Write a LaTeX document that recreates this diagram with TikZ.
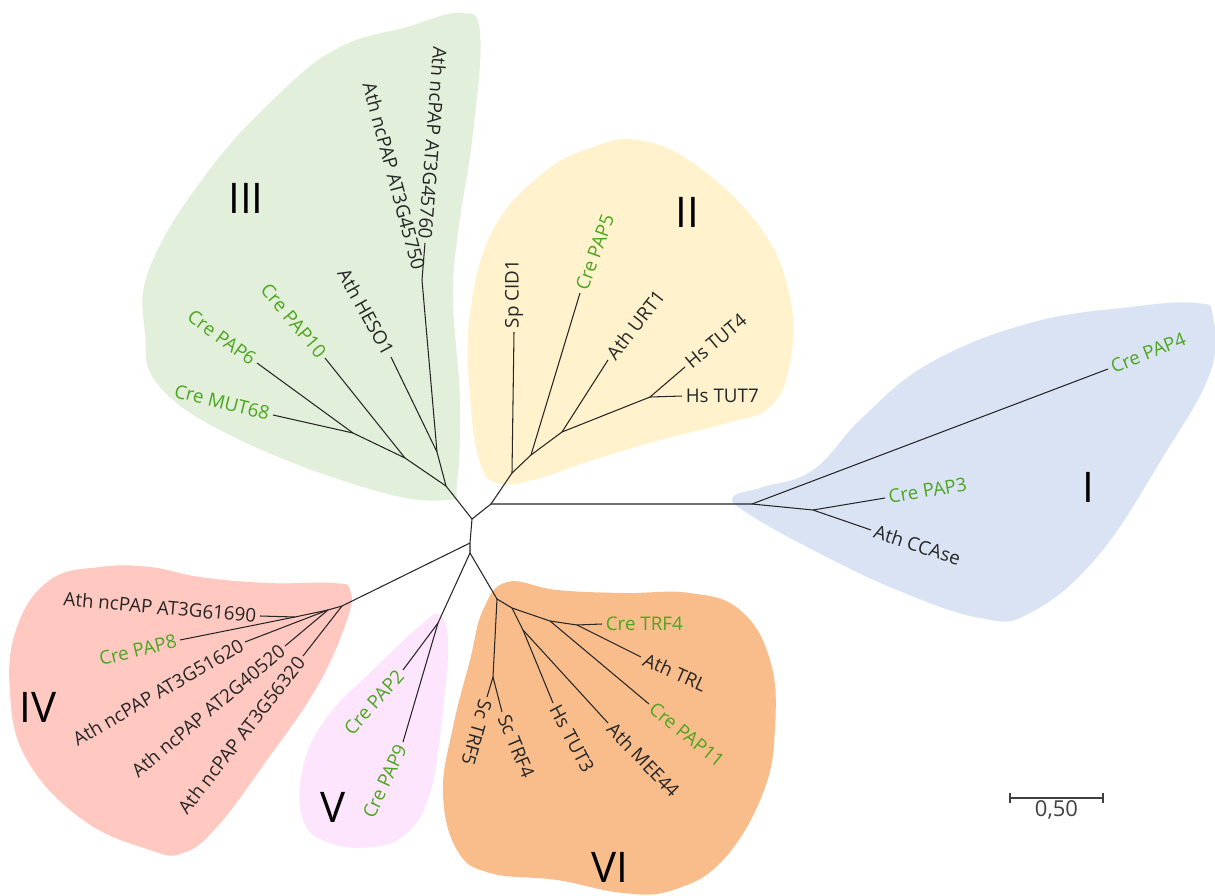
\documentclass[tikz,border=0pt]{standalone}
\usepackage{fontspec}
\setmainfont{Open Sans}
\usetikzlibrary{calc}
\definecolor{cregreen}{HTML}{4CA61E}
\definecolor{cladeI}{HTML}{DAE3F3}
\definecolor{cladeII}{HTML}{FFF2CC}
\definecolor{cladeIII}{HTML}{E2EFDA}
\definecolor{cladeIV}{HTML}{FFC8C0}
\definecolor{cladeV}{HTML}{FDE5FD}
\definecolor{cladeVI}{HTML}{F9BD8C}
\begin{document}
\begin{tikzpicture}[
            x=0.02cm, y=-0.02cm,
            blob/.style={draw=none},
            branch/.style={
                    draw=black!85,
                    line width=0.6pt
                },
            taxon/.style={
                    font=\fontsize{10.7}{13}\selectfont,
                    text=black!85,
                    inner sep=2pt
                },
            cre/.style={taxon, text=cregreen},
            roman/.style={
                    font=\fontsize{24}{28}\selectfont,
                    text=black
                },
            scalebar/.style={
                    draw=black!75,
                    line width=0.6pt
                }
            ]
            \useasboundingbox (0,0) rectangle (1215,896);

            % Hintergrundflaechen der Kladen
            \fill[blob, cladeIII] plot[smooth cycle, tension=0.7] coordinates {
                (460,13) (480,33) (473,133) (458,233) (453,300) (460,400)
                (457,483) (447,500) (373,490) (240,440) (160,387) (145,333)
                (150,267) (207,173) (280,93) (340,47) (407,27)};
            \fill[blob, cladeII] plot[smooth cycle, tension=0.7] coordinates {
                (637,140) (693,163) (760,227) (790,297) (790,363) (770,407)
                (727,423) (660,440) (593,460) (533,480) (497,483) (480,463)
                (470,397) (470,313) (493,230) (543,173) (593,147)};
            \fill[blob, cladeI] plot[smooth cycle, tension=0.7] coordinates {
                (733,497) (763,487) (813,470) (863,417) (930,363) (1030,323)
                (1130,307) (1197,303) (1213,317) (1210,373) (1163,457)
                (1097,557) (1030,613) (980,618) (897,590) (813,550) (747,513)};
            \fill[blob, cladeIV] plot[smooth cycle, tension=0.7] coordinates {
                (100,567) (50,580) (17,627) (10,693) (27,760) (83,820)
                (150,850) (183,853) (217,827) (267,760) (317,687) (347,620)
                (350,590) (333,583) (267,583) (200,577) (150,567)};
            \fill[blob, cladeV] plot[smooth cycle, tension=0.7] coordinates {
                (440,615) (448,643) (443,710) (430,793) (407,833) (373,847)
                (330,843) (303,820) (303,767) (327,717) (373,670) (423,623)};
            \fill[blob, cladeVI] plot[smooth cycle, tension=0.7] coordinates {
                (507,582) (557,590) (623,593) (690,593) (740,610) (770,660)
                (775,727) (763,793) (723,860) (673,890) (623,893) (557,880)
                (490,873) (457,850) (443,793) (453,727) (470,660) (483,610)};

            % Rueckgrat des Baums
            \coordinate (center) at (472,519);
            \coordinate (split) at (491,504);
            \coordinate (lowA) at (470,543);
            \coordinate (lowB) at (470,553);
            \coordinate (rootI) at (752,504);
            \coordinate (rootII) at (512,473);
            \coordinate (rootIII) at (446,486);
            \coordinate (rootIV) at (342,606);
            \coordinate (rootV) at (438,623);
            \coordinate (rootVI) at (497,599);
            \draw[branch] (rootIII) -- (center) -- (split) -- (rootI);
            \draw[branch] (split) -- (rootII);
            \draw[branch] (center) -- (lowA) -- (lowB);
            \draw[branch] (lowA) -- (rootIV);
            \draw[branch] (lowB) -- (rootV);
            \draw[branch] (lowB) -- (rootVI);

            % Klade I
            \coordinate (nI) at (813,510);
            \coordinate (pap4) at (1108,369);
            \coordinate (pap3) at (885,498);
            \coordinate (ccase) at (871,530);
            \draw[branch] (rootI) -- (pap4);
            \draw[branch] (rootI) -- (nI);
            \draw[branch] (nI) -- (pap3);
            \draw[branch] (nI) -- (ccase);
            \node[cre, anchor=west, rotate=22] (pap4Lab) at (pap4) {Cre PAP4};
            \node[cre, anchor=west, rotate=10] (pap3Lab) at (pap3) {Cre PAP3};
            \node[taxon, anchor=west, rotate=-18] (ccaseLab) at (ccase) {Ath CCAse};
            \node[roman] (numI) at (1088,487) {I};

            % Klade II
            \coordinate (nIIa) at (531,455);
            \coordinate (nIIb) at (562,432);
            \coordinate (nIIc) at (650,397);
            \coordinate (cid1) at (514,332);
            \coordinate (pap5) at (580,293);
            \coordinate (urt1) at (608,360);
            \coordinate (tut4) at (685,367);
            \coordinate (tut7) at (682,396);
            \draw[branch] (rootII) -- (cid1);
            \draw[branch] (rootII) -- (nIIa) -- (nIIb) -- (nIIc);
            \draw[branch] (nIIa) -- (pap5);
            \draw[branch] (nIIb) -- (urt1);
            \draw[branch] (nIIc) -- (tut4);
            \draw[branch] (nIIc) -- (tut7);
            \node[taxon, anchor=west, rotate=90] (cid1Lab) at (cid1) {Sp CID1};
            \node[cre, anchor=west, rotate=70] (pap5Lab) at (pap5) {Cre PAP5};
            \node[taxon, anchor=west, rotate=52] (urt1Lab) at (urt1) {Ath URT1};
            \node[taxon, anchor=west, rotate=40] (tut4Lab) at (tut4) {Hs TUT4};
            \node[taxon, anchor=west] (tut7Lab) at (tut7) {Hs TUT7};
            \node[roman] (numII) at (687,212) {II};

            % Klade III
            \coordinate (nIIIa) at (405,458);
            \coordinate (nIIIb) at (353,433);
            \coordinate (nIIIc) at (437,452);
            \coordinate (nIIId) at (422,280);
            \coordinate (g45760) at (425,243);
            \coordinate (heso1) at (391,357);
            \coordinate (pap10) at (325,358);
            \coordinate (pap6) at (257,363);
            \coordinate (mut68) at (273,415);
            \draw[branch] (rootIII) -- (nIIIa) -- (nIIIb);
            \draw[branch] (nIIIa) -- (pap10);
            \draw[branch] (nIIIb) -- (pap6);
            \draw[branch] (nIIIb) -- (mut68);
            \draw[branch] (rootIII) -- (nIIIc) -- (nIIId) -- (g45760);
            \draw[branch] (nIIIc) -- (heso1);
            \node[taxon, anchor=east, rotate=-94.5] (g45760Lab) at (g45760) {Ath ncPAP AT3G45760};
            \node[taxon, anchor=east, rotate=-75, inner sep=6pt] (g45750Lab) at (nIIId) {Ath ncPAP AT3G45750};
            \node[taxon, anchor=east, rotate=-61] (heso1Lab) at (heso1) {Ath HESO1};
            \node[cre, anchor=east, rotate=-50] (pap10Lab) at (pap10) {Cre PAP10};
            \node[cre, anchor=east, rotate=-36] (pap6Lab) at (pap6) {Cre PAP6};
            \node[cre, anchor=east, rotate=-14] (mut68Lab) at (mut68) {Cre MUT68};
            \node[roman] (numIII) at (246,198) {III};

            % Klade IV
            \coordinate (nIVa) at (328,610);
            \coordinate (nIVb) at (295,617);
            \coordinate (g61690) at (260,616);
            \coordinate (pap8) at (180,640);
            \coordinate (g51620) at (245,642);
            \coordinate (g40520) at (285,646);
            \coordinate (g56320) at (303,656);
            \draw[branch] (rootIV) -- (nIVa) -- (nIVb) -- (g61690);
            \draw[branch] (nIVb) -- (pap8);
            \draw[branch] (nIVa) -- (g51620);
            \draw[branch] (nIVa) -- (g40520);
            \draw[branch] (rootIV) -- (g56320);
            \node[taxon, anchor=east, rotate=-5] (g61690Lab) at (g61690) {Ath ncPAP AT3G61690};
            \node[cre, anchor=east, rotate=13.5] (pap8Lab) at (pap8) {Cre PAP8};
            \node[taxon, anchor=east, rotate=30] (g51620Lab) at (g51620) {Ath ncPAP AT3G51620};
            \node[taxon, anchor=east, rotate=40] (g40520Lab) at (g40520) {Ath ncPAP AT2G40520};
            \node[taxon, anchor=east, rotate=52] (g56320Lab) at (g56320) {Ath ncPAP AT3G56320};
            \node[roman] (numIV) at (38,707) {IV};

            % Klade V
            \coordinate (pap2) at (403,670);
            \coordinate (pap9) at (403,742);
            \draw[branch] (rootV) -- (pap2);
            \draw[branch] (rootV) -- (pap9);
            \node[cre, anchor=east, rotate=48] (pap2Lab) at (pap2) {Cre PAP2};
            \node[cre, anchor=east, rotate=65] (pap9Lab) at (pap9) {Cre PAP9};
            \node[roman] (numV) at (333,807) {V};

            % Klade VI
            \coordinate (nVIa) at (493,677);
            \coordinate (nVIb) at (512,608);
            \coordinate (nVIc) at (523,630);
            \coordinate (nVId) at (550,621);
            \coordinate (nVIe) at (577,625);
            \coordinate (trf5) at (487,697);
            \coordinate (sctrf4) at (502,712);
            \coordinate (tut3) at (553,703);
            \coordinate (mee44) at (608,723);
            \coordinate (pap11) at (649,704);
            \coordinate (trl) at (641,657);
            \coordinate (cretrf4) at (602,624);
            \draw[branch] (rootVI) -- (nVIa);
            \draw[branch] (nVIa) -- (trf5);
            \draw[branch] (nVIa) -- (sctrf4);
            \draw[branch] (rootVI) -- (nVIb) -- (nVId) -- (nVIe);
            \draw[branch] (nVIb) -- (nVIc);
            \draw[branch] (nVIc) -- (tut3);
            \draw[branch] (nVIc) -- (mee44);
            \draw[branch] (nVId) -- (pap11);
            \draw[branch] (nVIe) -- (trl);
            \draw[branch] (nVIe) -- (cretrf4);
            \node[taxon, anchor=west, rotate=-106] (trf5Lab) at (trf5) {Sc TRF5};
            \node[taxon, anchor=west, rotate=-67.5] (sctrf4Lab) at (sctrf4) {Sc TRF4};
            \node[taxon, anchor=west, rotate=-62] (tut3Lab) at (tut3) {Hs TUT3};
            \node[taxon, anchor=west, rotate=-46] (mee44Lab) at (mee44) {Ath MEE44};
            \node[cre, anchor=west, rotate=-39] (pap11Lab) at (pap11) {Cre PAP11};
            \node[taxon, anchor=west, rotate=-24] (trlLab) at (trl) {Ath TRL};
            \node[cre, anchor=west] (cretrf4Lab) at (cretrf4) {Cre TRF4};
            \node[roman] (numVI) at (610,867) {VI};

            % Massstab
            \coordinate (barL) at (1010,798);
            \coordinate (barR) at (1103,798);
            \draw[scalebar] (barL) -- (barR);
            \draw[scalebar] ([yshift=0.1cm]barL) -- ([yshift=-0.1cm]barL);
            \draw[scalebar] ([yshift=0.1cm]barR) -- ([yshift=-0.1cm]barR);
            \node[taxon, font=\fontsize{12.5}{15}\selectfont, text=black!75, anchor=north, inner sep=1pt] (barLab) at ($(barL)!0.5!(barR)$) {0,50};

        \end{tikzpicture}
\end{document}
